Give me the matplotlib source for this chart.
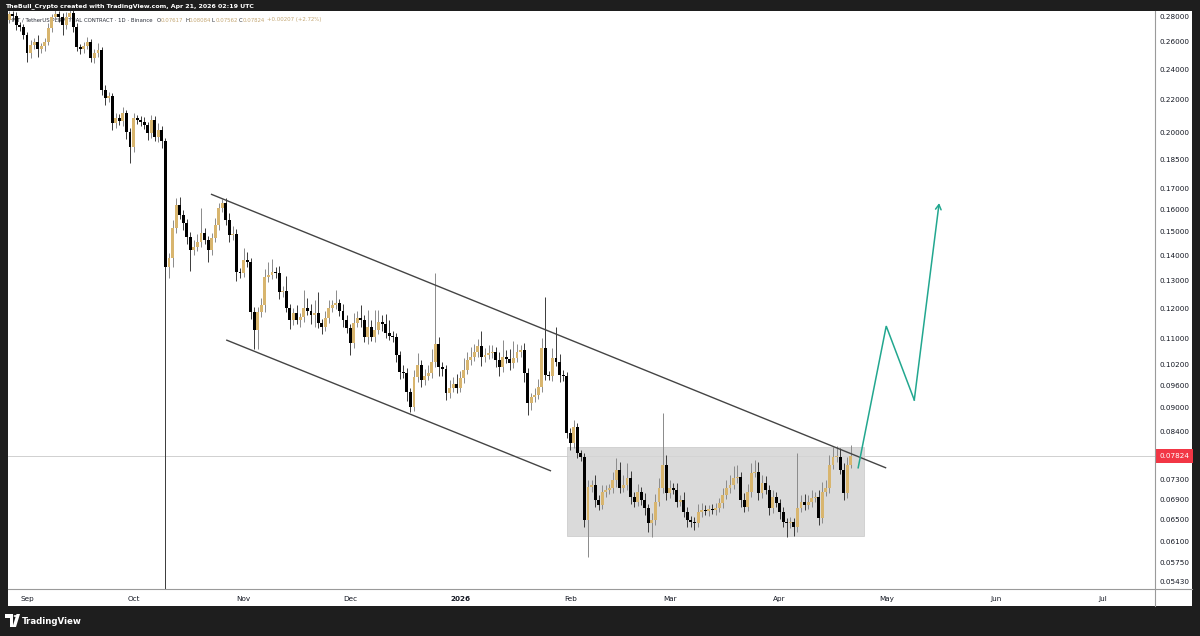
import matplotlib
matplotlib.use("Agg")
import matplotlib.pyplot as plt
import matplotlib.dates as mdates
import matplotlib.transforms as mtransforms
from matplotlib.patches import Rectangle, Polygon, Circle
from matplotlib.lines import Line2D
from matplotlib.ticker import NullLocator
import numpy as np
import pandas as pd

# ---------------- data ----------------
start_date = "2025-08-27"
first_open = 0.2768
closes = [
    0.2816, 0.2800, 0.2728, 0.2712, 0.2650, 0.2515, 0.2574, 0.2597, 0.2544, 0.2567,
    0.2597, 0.2704, 0.2792, 0.2816, 0.2792, 0.2728, 0.2792, 0.2824, 0.2712, 0.2559,
    0.2544, 0.2567, 0.2597, 0.2479, 0.2515, 0.2537, 0.2259, 0.2208, 0.2220, 0.2053,
    0.2083, 0.2065, 0.2113, 0.2000, 0.1915, 0.2083, 0.2071, 0.2059, 0.2041, 0.1994,
    0.2071, 0.1971, 0.2012, 0.1949, 0.1352, 0.1388, 0.1514, 0.1619, 0.1572, 0.1536,
    0.1475, 0.1421, 0.1433, 0.1454, 0.1492, 0.1462, 0.1421, 0.1471, 0.1527, 0.1605,
    0.1628, 0.1550, 0.1484, 0.1488, 0.1333, 0.1329, 0.1380, 0.1372, 0.1187, 0.1126,
    0.1187, 0.1211, 0.1314, 0.1321, 0.1333, 0.1329, 0.1258, 0.1261, 0.1201, 0.1160,
    0.1183, 0.1160, 0.1170, 0.1201, 0.1190, 0.1177, 0.1183, 0.1150, 0.1136, 0.1166,
    0.1201, 0.1211, 0.1218, 0.1190, 0.1160, 0.1133, 0.1085, 0.1150, 0.1166, 0.1160,
    0.1104, 0.1136, 0.1104, 0.1126, 0.1153, 0.1146, 0.1117, 0.1107, 0.1104, 0.1048,
    0.09973, 0.09944, 0.09411, 0.09011, 0.09829, 0.1018, 0.09744, 0.09858, 0.09944, 0.1027,
    0.1082, 0.1012, 0.1006, 0.09383, 0.09521, 0.09632, 0.09521, 0.09801, 0.1003, 0.1033,
    0.1042, 0.1057, 0.1075, 0.1042, 0.1048, 0.1054, 0.1057, 0.1033, 0.1012, 0.1042,
    0.1036, 0.1024, 0.1039, 0.1057, 0.1063, 0.09944, 0.09116, 0.09276, 0.09329, 0.09548,
    0.1069, 0.09887, 0.09858, 0.1039, 0.1027, 0.09887, 0.09858, 0.08356, 0.08118, 0.08503,
    0.07885, 0.07794, 0.06493, 0.07145, 0.07187, 0.06881, 0.06782, 0.07043, 0.07083, 0.07124,
    0.07292, 0.07506, 0.07124, 0.07187, 0.07334, 0.06941, 0.06841, 0.07043, 0.06881, 0.06723,
    0.06437, 0.06493, 0.06841, 0.07124, 0.07616, 0.07022, 0.07124, 0.07083, 0.06841, 0.06881,
    0.06646, 0.06493, 0.06456, 0.06437, 0.06646, 0.06684, 0.06665, 0.06703, 0.06684, 0.06723,
    0.06821, 0.06981, 0.07124, 0.07187, 0.07334, 0.07356, 0.06881, 0.06742, 0.07043, 0.07442,
    0.07463, 0.07022, 0.07229, 0.07083, 0.06723, 0.06941, 0.06821, 0.06646, 0.06456, 0.06437,
    0.06456, 0.06363, 0.06723, 0.06841, 0.06782, 0.06841, 0.06921, 0.06941, 0.06531, 0.07043,
    0.07124, 0.07616, 0.07794, 0.0781, 0.07506, 0.07022, 0.07617, 0.07824,
]
# wick lengths beyond the body, in percent of price
upper_wick_pct = [
    1.0, 0.8, 1.2, 0.8, 1.0, 0.8, 1.5, 1.2, 2.0, 1.0,
    1.2, 1.5, 1.0, 1.5, 0.8, 1.2, 1.5, 1.0, 0.8, 1.2,
    0.8, 1.2, 1.5, 1.0, 1.2, 2.0, 0.8, 1.5, 1.2, 1.0,
    1.5, 1.2, 1.8, 1.0, 1.2, 1.5, 1.0, 1.2, 1.5, 0.8,
    1.5, 1.2, 2.0, 1.2, 1.0, 1.5, 2.5, 2.0, 2.5, 1.5,
    1.2, 1.5, 2.0, 2.5, 7.5, 1.5, 1.2, 1.5, 2.0, 1.5,
    1.2, 1.5, 2.0, 2.5, 1.5, 1.2, 3.5, 2.5, 1.2, 1.5,
    1.5, 2.0, 2.5, 3.8, 4.0, 1.5, 2.0, 1.5, 4.5, 1.2,
    1.5, 2.5, 1.2, 5.3, 3.0, 2.0, 4.0, 6.5, 1.2, 2.0,
    2.5, 1.5, 4.0, 1.2, 2.0, 1.5, 1.2, 3.0, 2.0, 4.0,
    1.5, 5.0, 2.0, 6.0, 3.5, 2.0, 3.0, 4.0, 1.5, 1.2,
    1.2, 2.0, 1.5, 1.2, 2.0, 3.5, 1.5, 2.0, 2.5, 4.0,
    23.0, 2.0, 1.5, 1.2, 2.5, 2.0, 3.0, 2.0, 3.5, 2.5,
    3.0, 2.5, 2.0, 4.5, 2.0, 2.5, 2.0, 1.5, 2.5, 5.0,
    2.0, 3.0, 5.0, 2.5, 1.5, 2.0, 1.5, 1.2, 2.0, 2.5,
    3.0, 16.0, 1.2, 3.0, 9.4, 2.5, 1.5, 1.2, 1.5, 2.0,
    1.2, 1.0, 1.2, 2.0, 1.5, 3.0, 1.5, 2.0, 1.5, 1.2,
    2.5, 3.5, 2.5, 3.0, 4.5, 2.0, 1.5, 2.5, 1.5, 2.0,
    1.2, 2.0, 2.5, 3.0, 16.5, 3.0, 2.5, 1.5, 2.0, 1.5,
    2.5, 1.5, 1.2, 1.5, 2.5, 2.0, 1.5, 1.2, 1.5, 1.5,
    1.5, 2.0, 2.5, 3.0, 3.5, 3.5, 1.5, 2.0, 2.5, 3.0,
    3.5, 3.0, 2.5, 2.0, 1.5, 2.0, 1.5, 1.2, 1.5, 1.2,
    1.5, 1.2, 17.5, 2.0, 2.5, 2.0, 2.5, 1.5, 2.0, 3.0,
    2.5, 3.0, 3.0, 3.0, 2.5, 2.0, 2.5, 3.3,
]
lower_wick_pct = [
    1.0, 1.2, 1.5, 1.0, 1.2, 2.6, 1.5, 1.0, 2.3, 1.2,
    1.5, 1.0, 1.2, 0.8, 1.5, 2.9, 1.2, 1.0, 1.5, 1.2,
    1.5, 1.2, 1.0, 1.2, 1.5, 1.0, 1.5, 2.0, 1.2, 2.0,
    1.5, 1.2, 1.5, 2.0, 4.4, 1.5, 1.2, 1.0, 1.2, 2.0,
    1.5, 1.2, 1.5, 2.0, 80.0, 3.0, 2.5, 1.5, 1.2, 2.0,
    2.0, 5.8, 1.5, 1.2, 1.5, 1.2, 3.5, 1.5, 1.2, 1.5,
    1.2, 1.5, 2.0, 1.5, 2.5, 1.5, 1.2, 1.5, 2.0, 5.3,
    5.3, 1.5, 2.0, 1.5, 1.2, 1.5, 2.0, 1.5, 1.2, 2.5,
    1.5, 1.2, 2.0, 1.5, 1.2, 2.5, 3.5, 1.5, 2.0, 1.2,
    1.5, 1.2, 1.0, 1.5, 2.0, 1.5, 3.5, 1.5, 1.2, 2.0,
    1.5, 2.0, 1.2, 1.5, 1.2, 2.0, 1.5, 1.2, 1.5, 2.0,
    2.0, 1.5, 2.5, 1.5, 1.2, 1.5, 2.0, 1.5, 1.2, 1.5,
    1.5, 2.5, 2.0, 2.0, 1.5, 1.2, 1.5, 1.2, 1.5, 1.2,
    1.5, 1.2, 1.5, 2.5, 1.5, 1.2, 1.5, 2.0, 2.5, 1.5,
    1.2, 2.0, 1.5, 1.2, 1.5, 2.5, 3.5, 2.0, 1.5, 1.2,
    1.5, 1.5, 1.2, 1.5, 1.2, 2.0, 1.5, 1.5, 2.0, 1.5,
    1.5, 1.2, 2.0, 10.2, 1.5, 2.0, 1.5, 1.2, 1.5, 1.2,
    1.5, 2.0, 1.5, 1.2, 1.5, 2.0, 1.5, 1.2, 1.5, 2.0,
    2.5, 4.0, 1.5, 1.2, 1.5, 2.0, 1.5, 1.2, 1.5, 1.2,
    1.5, 2.0, 1.5, 2.0, 1.2, 1.5, 1.2, 1.5, 1.2, 1.5,
    1.2, 1.5, 1.2, 1.5, 1.2, 1.5, 2.0, 1.5, 1.2, 1.5,
    1.2, 2.0, 1.5, 1.2, 2.0, 1.5, 1.2, 2.0, 1.5, 4.0,
    1.5, 2.5, 1.5, 1.2, 1.5, 1.2, 1.5, 1.2, 2.0, 1.5,
    1.2, 1.5, 1.2, 1.5, 1.2, 2.0, 1.5, 0.7,
]
last_ohlc = {"O": 0.07617, "H": 0.08084, "L": 0.07562, "C": 0.07824}
last_change = "+0.00207 (+2.72%)"

price_ticks = [0.28, 0.26, 0.24, 0.22, 0.20, 0.185, 0.17, 0.16, 0.15, 0.14, 0.13,
               0.12, 0.11, 0.102, 0.096, 0.09, 0.084, 0.073, 0.069, 0.065, 0.061,
               0.0575, 0.0543]
month_ticks = ["2025-09-01", "2025-10-01", "2025-11-01", "2025-12-01", "2026-01-01",
               "2026-02-01", "2026-03-01", "2026-04-01", "2026-05-01", "2026-06-01",
               "2026-07-01"]
month_labels = ["Sep", "Oct", "Nov", "Dec", "2026", "Feb", "Mar", "Apr", "May", "Jun", "Jul"]

# drawings (days counted from 2025-09-01)
anchor_date = "2025-09-01"
upper_line_days = [51.8, 242.0]
upper_line_prices = [0.1671, 0.07555]
lower_line_days = [56.1, 147.6]
lower_line_prices = [0.1095, 0.0749]
range_box_days = [152.1, 235.8]
range_box_prices = [0.06202, 0.08026]
projection_days = [234.1, 242.0, 249.9, 256.9]
projection_prices = [0.0756, 0.1140, 0.0920, 0.1628]
view_days = [-5.35, 317.7]
view_prices = [0.0532, 0.2841]

# ---------------- build ----------------
n = len(closes)
dates = pd.date_range(start_date, periods=n, freq="D")
opens = [first_open] + closes[:-1]
opens[-1] = last_ohlc["O"]
closes = list(closes)
closes[-1] = last_ohlc["C"]
highs = [max(o, c) * (1 + u / 100) for o, c, u in zip(opens, closes, upper_wick_pct)]
lows = [min(o, c) * (1 - l / 100) for o, c, l in zip(opens, closes, lower_wick_pct)]
highs[-1] = last_ohlc["H"]
lows[-1] = last_ohlc["L"]

UP = "#d8b56e"
DOWN = "#000000"
W, H = 1200, 636


def fx(px):
    return px / W


def fy(py):
    return 1 - py / H


fig = plt.figure(figsize=(12, 6.36), dpi=100, facecolor="#1e1e1e")
fig.patches.append(Rectangle((fx(8), fy(606)), fx(1192) - fx(8), fy(11) - fy(606),
                             transform=fig.transFigure, facecolor="white",
                             edgecolor="none", zorder=-10))

ax = fig.add_axes([fx(8), fy(589), fx(1155) - fx(8), fy(11) - fy(589)])
ax.set_facecolor("white")
ax.set_yscale("log")

x0 = mdates.date2num(pd.Timestamp(anchor_date))
xs = mdates.date2num(dates)

o = np.array(opens)
c = np.array(closes)
up = c >= o
body_lo = np.minimum(o, c)
body_hi = np.maximum(o, c)
body_h = np.maximum(body_hi - body_lo, body_lo * 0.004)
colors = [UP if u else DOWN for u in up]
wick_colors = ["#8a8a8a" if u else "#3a3a3a" for u in up]

ax.vlines(xs, lows, highs, colors=wick_colors, linewidth=0.7, zorder=3)
ax.bar(xs, body_h, bottom=body_lo, width=0.82, color=colors, linewidth=0, zorder=4)

# range box
ax.add_patch(Rectangle((x0 + range_box_days[0], range_box_prices[0]),
                       range_box_days[1] - range_box_days[0],
                       range_box_prices[1] - range_box_prices[0],
                       facecolor="#d4d4d4", edgecolor="#c8c8c8", linewidth=0.6,
                       alpha=0.85, zorder=2))

# last price line
ax.axhline(last_ohlc["C"], color="#c9c9c9", linewidth=0.6, zorder=1.5)

# channel lines
ax.plot([x0 + d for d in upper_line_days], upper_line_prices, color="#444444",
        linewidth=1.0, zorder=5, solid_capstyle="butt")
ax.plot([x0 + d for d in lower_line_days], lower_line_prices, color="#444444",
        linewidth=1.0, zorder=5, solid_capstyle="butt")

# projection path
TEAL = "#22a78f"
px = [x0 + d for d in projection_days]
ax.plot(px[:3], projection_prices[:3], color=TEAL, linewidth=1.1, zorder=6,
        solid_joinstyle="miter")
ax.annotate("", xy=(px[3], projection_prices[3]), xytext=(px[2], projection_prices[2]),
            arrowprops=dict(arrowstyle="->,head_length=0.35,head_width=0.2", color=TEAL,
                            linewidth=1.1, shrinkA=0, shrinkB=0), zorder=6)

ax.set_xlim(x0 + view_days[0], x0 + view_days[1])
ax.set_ylim(view_prices[0], view_prices[1])

# y axis (right)
ax.yaxis.tick_right()
ax.set_yticks(price_ticks)
ax.set_yticklabels([f"{t:.5f}" for t in price_ticks])
ax.yaxis.set_minor_locator(NullLocator())
ax.tick_params(axis="y", length=0, labelsize=5.2, pad=3, labelcolor="#131722")

# x axis
ax.set_xticks([mdates.date2num(pd.Timestamp(m)) for m in month_ticks])
ax.set_xticklabels(month_labels)
ax.xaxis.set_minor_locator(NullLocator())
ax.tick_params(axis="x", length=0, labelsize=5.2, pad=5, labelcolor="#131722")
for lbl in ax.get_xticklabels():
    if lbl.get_text() == "2026":
        lbl.set_fontweight("bold")

for s in ax.spines.values():
    s.set_visible(False)

# axis frame lines
fig.add_artist(Line2D([fx(8), fx(1192)], [fy(589), fy(589)], color="#9a9a9a",
                      linewidth=0.8, transform=fig.transFigure))
fig.add_artist(Line2D([fx(1155), fx(1155)], [fy(11), fy(606)], color="#9a9a9a",
                      linewidth=0.8, transform=fig.transFigure))

# last price tag
tag_tr = mtransforms.blended_transform_factory(ax.transAxes, ax.transData)
ax.text(1.0 + 4 / 1147, last_ohlc["C"], f"{last_ohlc['C']:.5f}", transform=tag_tr,
        ha="left", va="center", fontsize=5.2, color="white", zorder=10, clip_on=False,
        bbox=dict(boxstyle="square,pad=0.5", facecolor="#f23645", edgecolor="none"))

# legend line
leg_y = 1 - (20 - 11) / 578
LEG_FS = 3.9


def afx(px_):
    return (px_ - 8) / 1147


ax.text(afx(9), leg_y, "HNT / TetherUS PERPETUAL CONTRACT · 1D · Binance",
        transform=ax.transAxes, fontsize=LEG_FS, color="#2a2e39", va="center", ha="left",
        zorder=1)
VAL = "#c4a774"
for xp, key in [(157, "O"), (185, "H"), (212, "L"), (239, "C")]:
    ax.text(afx(xp), leg_y, key, transform=ax.transAxes, fontsize=LEG_FS, color="#2a2e39",
            va="center", ha="left", zorder=1)
    ax.text(afx(xp + 3.5), leg_y, f"{last_ohlc[key]:.5f}", transform=ax.transAxes,
            fontsize=LEG_FS, color=VAL, va="center", ha="left", zorder=1)
ax.text(afx(267), leg_y, last_change, transform=ax.transAxes, fontsize=LEG_FS, color=VAL,
        va="center", ha="left", zorder=1)

# header
fig.text(fx(5), fy(6), "TheBull_Crypto created with TradingView.com, Apr 21, 2026 02:19 UTC",
         color="white", fontsize=4.5, fontweight="bold", va="center", ha="left")

# TradingView logo
fig.patches.append(Polygon([(fx(5), fy(614)), (fx(13), fy(614)), (fx(13), fy(627)),
                            (fx(9.5), fy(627)), (fx(9.5), fy(617.5)), (fx(5), fy(617.5))],
                           closed=True, transform=fig.transFigure, facecolor="white",
                           edgecolor="none"))
fig.patches.append(Circle((fx(15.3), fy(616)), 1.7 / W, transform=fig.transFigure,
                          facecolor="white", edgecolor="none"))
fig.patches.append(Polygon([(fx(16.5), fy(614)), (fx(20), fy(614)), (fx(16), fy(627)),
                            (fx(12.5), fy(627))], closed=True, transform=fig.transFigure,
                           facecolor="white", edgecolor="none"))
fig.text(fx(21.5), fy(621), "TradingView", color="white", fontsize=6.2,
         fontweight="bold", va="center", ha="left")

fig.savefig("out.png", dpi=100, facecolor=fig.get_facecolor())
